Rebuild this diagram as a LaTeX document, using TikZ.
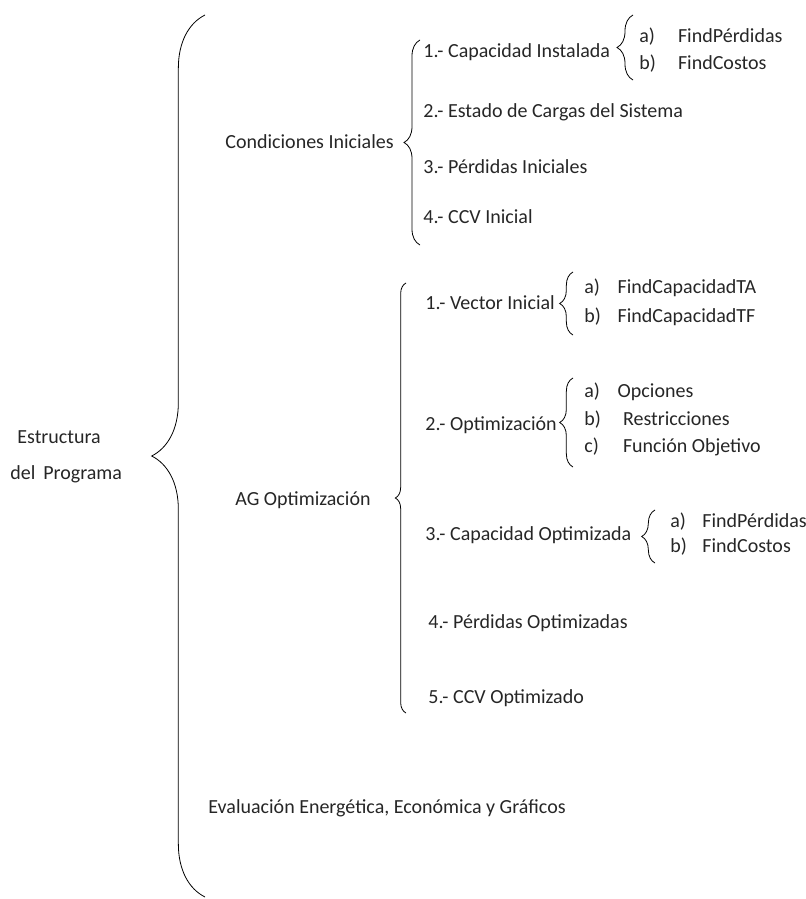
\documentclass[tikz,border=0pt]{standalone}
\usepackage{fontspec}
\setmainfont{Carlito}
\usetikzlibrary{positioning,decorations.pathreplacing}
\tikzset{
  llave/.style={decorate,decoration={brace,amplitude=#1}},
  txt/.style={anchor=west,inner sep=0pt,text=black!85,font=\fontsize{15}{18}\selectfont},
}
\newcommand{\inciso}[3][27pt]{\makebox[#1][l]{#2}#3}

\begin{document}
\begin{tikzpicture}[x=0.75pt,y=-0.75pt,line width=0.6pt]
  \useasboundingbox (0,0) rectangle (806,899);
  % raiz
  \node[txt] (est) at (17,437) {Estructura};
  \node[txt] (prog) at (10,474) {del\, Programa};
  \coordinate (r1) at (205,897);
  \coordinate (r2) at (205,15);
  \draw[llave=40pt] (r1) -- (r2);

  % condiciones iniciales
  \node[txt] (ci) at (225,142) {Condiciones Iniciales};
  \coordinate (c1) at (420,245);
  \coordinate (c2) at (420,40);
  \draw[llave=12pt] (c1) -- (c2);
  \node[txt] (ci1) at (423,52) {1.- Capacidad Instalada};
  \node[txt] (ci2) at (423,112) {2.- Estado de Cargas del Sistema};
  \node[txt] (ci3) at (423,167) {3.- Pérdidas Iniciales};
  \node[txt] (ci4) at (423,217) {4.- CCV Inicial};
  \coordinate (c11) at (633,80);
  \coordinate (c12) at (633,15);
  \draw[llave=12pt] (c11) -- (c12);
  \node[txt] (ci1a) at (639,37) {\inciso[29pt]{a)}{FindPérdidas}};
  \node[txt] (ci1b) at (639,64) {\inciso[29pt]{b)}{FindCostos}};

  % AG optimizacion
  \node[txt] (ag) at (235,500) {AG Optimización};
  \coordinate (g1) at (406,713);
  \coordinate (g2) at (406,283);
  \draw[llave=8pt] (g1) -- (g2);
  \node[txt] (ag1) at (425,303) {1.- Vector Inicial};
  \node[txt] (ag2) at (425,425) {2.- Optimización};
  \node[txt] (ag3) at (425,535) {3.- Capacidad Optimizada};
  \node[txt] (ag4) at (428,623) {4.- Pérdidas Optimizadas};
  \node[txt] (ag5) at (428,698) {5.- CCV Optimizado};
  \coordinate (g11) at (573,335);
  \coordinate (g12) at (573,272);
  \draw[llave=10pt] (g11) -- (g12);
  \node[txt] (ag1a) at (584,288) {\inciso[25pt]{a)}{FindCapacidadTA}};
  \node[txt] (ag1b) at (584,317) {\inciso[25pt]{b)}{FindCapacidadTF}};
  \coordinate (g21) at (573,467);
  \coordinate (g22) at (573,378);
  \draw[llave=10pt] (g21) -- (g22);
  \node[txt] (ag2a) at (584,392) {\inciso[25pt]{a)}{Opciones}};
  \node[txt] (ag2b) at (584,420) {\inciso[29pt]{b)}{Restricciones}};
  \node[txt] (ag2c) at (584,447) {\inciso[29pt]{c)}{Función Objetivo}};
  \coordinate (g31) at (655,563);
  \coordinate (g32) at (655,510);
  \draw[llave=10pt] (g31) -- (g32);
  \node[txt] (ag3a) at (670,522) {\inciso[24pt]{a)}{FindPérdidas}};
  \node[txt] (ag3b) at (670,547) {\inciso[24pt]{b)}{FindCostos}};

  % evaluacion
  \node[txt] (ev) at (208,808) {Evaluación Energética, Económica y Gráficos};
\end{tikzpicture}
\end{document}
